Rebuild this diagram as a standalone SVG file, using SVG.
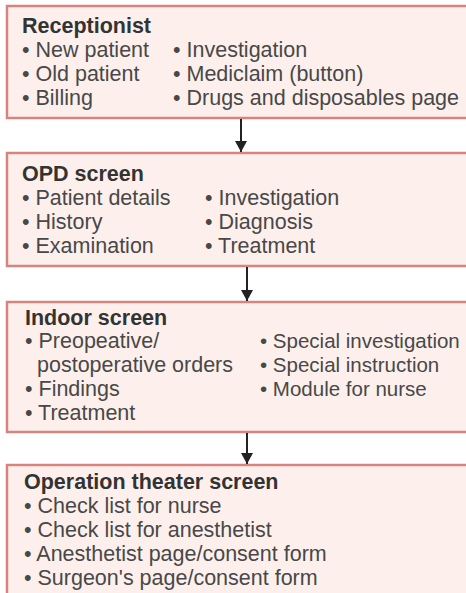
<svg xmlns="http://www.w3.org/2000/svg" width="466" height="593" viewBox="0 0 466 593">
<defs>
<style>
.box{fill:#fdf0ec;stroke:#d7837f;stroke-width:2.5}
.t{font-family:"Liberation Sans",Arial,sans-serif;font-size:21.5px;font-weight:bold;fill:#333}
.b{font-family:"Liberation Sans",Arial,sans-serif;font-size:21.5px;fill:#484848}
.s{font-size:20.5px}
.c{stroke:#222;stroke-width:2;fill:none}
</style>
<marker id="ah" markerUnits="userSpaceOnUse" markerWidth="12" markerHeight="14" refX="11" refY="6" orient="auto">
<path d="M0,0 L11,6 L0,12 Z" fill="#222"/>
</marker>
</defs>
<rect width="466" height="593" fill="#fff"/>
<g id="receptionist">
<rect class="box" x="7" y="6" width="480" height="112"/>
<text class="t" x="22" y="33">Receptionist</text>
<text class="b" x="22" y="57">• New patient</text>
<text class="b" x="22" y="81">• Old patient</text>
<text class="b" x="22" y="105">• Billing</text>
<text class="b" x="173" y="57">• Investigation</text>
<text class="b" x="173" y="81">• Mediclaim (button)</text>
<text class="b" x="173" y="105">• Drugs and disposables page</text>
</g>
<g id="opd">
<rect class="box" x="7" y="153" width="480" height="113"/>
<text class="t" x="22" y="181">OPD screen</text>
<text class="b" x="22" y="205">• Patient details</text>
<text class="b" x="22" y="229">• History</text>
<text class="b" x="22" y="253">• Examination</text>
<text class="b" x="205" y="205">• Investigation</text>
<text class="b" x="205" y="229">• Diagnosis</text>
<text class="b" x="205" y="253">• Treatment</text>
</g>
<g id="indoor">
<rect class="box" x="7" y="302" width="480" height="130"/>
<text class="t" x="25" y="325">Indoor screen</text>
<text class="b" x="25" y="348">• Preopeative/</text>
<text class="b" x="37" y="372">postoperative orders</text>
<text class="b" x="25" y="396">• Findings</text>
<text class="b" x="25" y="420">• Treatment</text>
<text class="b s" x="260" y="348">• Special investigation</text>
<text class="b s" x="260" y="372">• Special instruction</text>
<text class="b s" x="260" y="396">• Module for nurse</text>
</g>
<g id="ot">
<rect class="box" x="7" y="465" width="480" height="140"/>
<text class="t" x="24" y="489">Operation theater screen</text>
<text class="b" x="24" y="513">• Check list for nurse</text>
<text class="b" x="24" y="537">• Check list for anesthetist</text>
<text class="b" x="24" y="561">• Anesthetist page/consent form</text>
<text class="b" x="24" y="585">• Surgeon's page/consent form</text>
</g>
<g id="connectors">
<line class="c" x1="241" y1="119" x2="241" y2="152" marker-end="url(#ah)"/>
<line class="c" x1="247" y1="267" x2="247" y2="301" marker-end="url(#ah)"/>
<line class="c" x1="247" y1="433" x2="247" y2="464" marker-end="url(#ah)"/>
</g>
</svg>
